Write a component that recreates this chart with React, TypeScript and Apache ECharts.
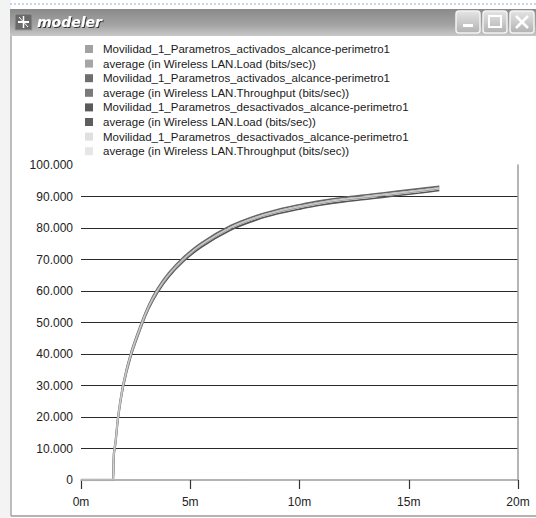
import React, { useEffect, useRef } from "react";
import * as echarts from "echarts";

// time in minutes
const times = [0, 1.46, 1.5, 1.58, 1.7, 1.93, 2.29, 2.8, 3.1, 3.49, 4.0, 4.68, 5.5, 6.83, 8.0, 9.0, 10.0, 11.0, 12.0, 13.26, 14.5, 15.5, 16.4];
const actLoad = [0, 0, 8000, 12000, 20000, 30000, 40000, 50000, 55000, 60000, 65000, 70000, 74600, 80000, 83200, 85200, 86700, 88000, 89000, 90000, 91000, 91800, 92600];
const actThroughput = [0, 0, 8600, 12600, 20600, 30700, 40700, 50700, 55700, 60700, 65700, 70700, 75300, 80700, 83900, 85900, 87400, 88700, 89700, 90700, 91700, 92500, 93200];
const desLoad = [0, 0, 7400, 11400, 19400, 29300, 39300, 49300, 54300, 59300, 64300, 69300, 73900, 79300, 82500, 84500, 86000, 87300, 88300, 89300, 90300, 91100, 91900];
const desThroughput = [0, 0, 8100, 12100, 20100, 30100, 40100, 50100, 55100, 60100, 65100, 70100, 74700, 80100, 83300, 85300, 86800, 88100, 89100, 90100, 91100, 91900, 92700];

const yTickLabels = ["0", "10.000", "20.000", "30.000", "40.000", "50.000", "60.000", "70.000", "80.000", "90.000", "100.000"];
const xTickLabels = ["0m", "5m", "10m", "15m", "20m"];

const legendTexts = [
  "Movilidad_1_Parametros_activados_alcance-perimetro1",
  "average (in Wireless LAN.Load (bits/sec))",
  "Movilidad_1_Parametros_activados_alcance-perimetro1",
  "average (in Wireless LAN.Throughput (bits/sec))",
  "Movilidad_1_Parametros_desactivados_alcance-perimetro1",
  "average (in Wireless LAN.Load (bits/sec))",
  "Movilidad_1_Parametros_desactivados_alcance-perimetro1",
  "average (in Wireless LAN.Throughput (bits/sec))",
];
const legendColors = ["#a2a2a2", "#a6a6a6", "#6e6e6e", "#7a7a7a", "#5a5a5a", "#5e5e5e", "#e0e0e0", "#e6e6e6"];

const FONT = "Liberation Sans, Arial, sans-serif";

export default function App() {
  const ref = useRef<HTMLDivElement>(null);
  useEffect(() => {
    const chart = echarts.init(ref.current!, null, { renderer: "svg" });
    const pairs = (vals: number[]) => times.map((t, i) => [t, vals[i]]);

    const legendGraphics: any[] = [];
    legendTexts.forEach((txt, i) => {
      const y = 49 + i * 14.6;
      legendGraphics.push({
        type: "rect",
        shape: { x: 85, y: y - 4, width: 8, height: 8 },
        style: { fill: legendColors[i] },
      });
      legendGraphics.push({
        type: "text",
        x: 103,
        y: y,
        style: { text: txt, font: `11.5px ${FONT}`, fill: "#1a1a1a", verticalAlign: "middle" },
      });
    });

    const btnFill = new echarts.graphic.LinearGradient(0, 0, 0, 1, [
      { offset: 0, color: "#e4e4e4" },
      { offset: 1, color: "#b2b2b2" },
    ]);

    chart.setOption({
      animation: false,
      backgroundColor: "#ffffff",
      grid: { left: 81, top: 165, width: 437, height: 315 },
      xAxis: {
        type: "value",
        min: 0,
        max: 20,
        interval: 5,
        axisLine: { show: true, lineStyle: { color: "#9c9c9c", width: 1.5 } },
        axisTick: { show: true, length: 9, lineStyle: { color: "#333", width: 1.2 } },
        axisLabel: {
          margin: 16,
          color: "#222",
          fontSize: 12,
          fontFamily: FONT,
          formatter: (v: number) => xTickLabels[Math.round(v / 5)],
        },
        splitLine: { show: false },
      },
      yAxis: [
        {
          type: "value",
          min: 0,
          max: 100000,
          interval: 10000,
          axisLine: { show: false },
          axisTick: { show: false },
          axisLabel: {
            margin: 8,
            color: "#222",
            fontSize: 12,
            fontFamily: FONT,
            formatter: (v: number) => yTickLabels[Math.round(v / 10000)],
          },
          splitLine: { show: true, showMinLine: false, showMaxLine: false, lineStyle: { color: "#2a2a2a", width: 1.2 } },
        },
        {
          type: "value",
          position: "right",
          min: 0,
          max: 100000,
          interval: 10000,
          axisLine: { show: true, lineStyle: { color: "#9c9c9c", width: 1.5 } },
          axisTick: { show: false },
          axisLabel: { show: false },
          splitLine: { show: false },
        },
      ],
      series: [
        {
          name: "Movilidad_1_Parametros_desactivados_alcance-perimetro1 average (in Wireless LAN.Load (bits/sec))",
          type: "line",
          data: pairs(desLoad),
          showSymbol: false,
          smooth: 0.3,
          lineStyle: { color: "#555", width: 1.6 },
        },
        {
          name: "Movilidad_1_Parametros_activados_alcance-perimetro1 average (in Wireless LAN.Throughput (bits/sec))",
          type: "line",
          data: pairs(actThroughput),
          showSymbol: false,
          smooth: 0.3,
          lineStyle: { color: "#666", width: 1.6 },
        },
        {
          name: "Movilidad_1_Parametros_activados_alcance-perimetro1 average (in Wireless LAN.Load (bits/sec))",
          type: "line",
          data: pairs(actLoad),
          showSymbol: false,
          smooth: 0.3,
          lineStyle: { color: "#a0a0a0", width: 2.4 },
        },
        {
          name: "Movilidad_1_Parametros_desactivados_alcance-perimetro1 average (in Wireless LAN.Throughput (bits/sec))",
          type: "line",
          data: pairs(desThroughput),
          showSymbol: false,
          smooth: 0.3,
          lineStyle: { color: "#d6d6d6", width: 1 },
        },
      ],
      graphic: [
        { type: "rect", shape: { x: 0, y: 0, width: 11, height: 518 }, style: { fill: "#f3f3f3" }, z: -10 },
        { type: "line", shape: { x1: 10, y1: 4, x2: 536, y2: 4 }, style: { stroke: "#8fb0d8", lineWidth: 1, lineDash: [2, 2] } },
        {
          type: "rect",
          shape: { x: 10, y: 9, width: 526, height: 27 },
          style: {
            fill: new echarts.graphic.LinearGradient(0, 0, 0, 1, [
              { offset: 0, color: "#8a8a8a" },
              { offset: 0.6, color: "#a4a4a4" },
              { offset: 1, color: "#c8c8c8" },
            ]),
          },
        },
        { type: "rect", shape: { x: 15, y: 14, width: 17, height: 16 }, style: { fill: "#6a6a6a", stroke: "#9a9a9a", lineWidth: 1 } },
        { type: "line", shape: { x1: 18, y1: 22, x2: 29, y2: 22 }, style: { stroke: "#ffffff", lineWidth: 2 } },
        { type: "line", shape: { x1: 23.5, y1: 16, x2: 23.5, y2: 28 }, style: { stroke: "#ffffff", lineWidth: 1.5 } },
        { type: "line", shape: { x1: 19, y1: 17, x2: 28, y2: 27 }, style: { stroke: "#ffffff", lineWidth: 1 } },
        {
          type: "text",
          x: 37,
          y: 22,
          style: {
            text: "modeler",
            font: "italic bold 14px DejaVu Sans, sans-serif",
            fill: "#ffffff",
            verticalAlign: "middle",
            textShadowColor: "#333",
            textShadowOffsetX: 1,
            textShadowOffsetY: 1,
            textShadowBlur: 1,
          },
        },
        { type: "rect", shape: { x: 456, y: 11, width: 24, height: 22, r: 3 }, style: { fill: btnFill, stroke: "#f4f4f4", lineWidth: 1.5 } },
        { type: "rect", shape: { x: 483, y: 11, width: 24, height: 22, r: 3 }, style: { fill: btnFill, stroke: "#f4f4f4", lineWidth: 1.5 } },
        { type: "rect", shape: { x: 510, y: 11, width: 24, height: 22, r: 3 }, style: { fill: btnFill, stroke: "#f4f4f4", lineWidth: 1.5 } },
        { type: "rect", shape: { x: 463, y: 24, width: 10, height: 3 }, style: { fill: "#ffffff" } },
        { type: "rect", shape: { x: 489, y: 16, width: 12, height: 11 }, style: { fill: "none", stroke: "#ffffff", lineWidth: 2 } },
        { type: "line", shape: { x1: 516, y1: 16, x2: 528, y2: 28 }, style: { stroke: "#ffffff", lineWidth: 2.5 } },
        { type: "line", shape: { x1: 528, y1: 16, x2: 516, y2: 28 }, style: { stroke: "#ffffff", lineWidth: 2.5 } },
        { type: "line", shape: { x1: 11, y1: 36, x2: 11, y2: 516 }, style: { stroke: "#a8a8a8", lineWidth: 1.5 } },
        { type: "line", shape: { x1: 11, y1: 516, x2: 536, y2: 516 }, style: { stroke: "#9a9a9a", lineWidth: 1.5 } },
        ...legendGraphics,
      ],
    });
    return () => chart.dispose();
  }, []);
  return <div ref={ref} style={{ position: "absolute", left: 0, top: 0, width: 536, height: 518, background: "#fff" }} />;
}
